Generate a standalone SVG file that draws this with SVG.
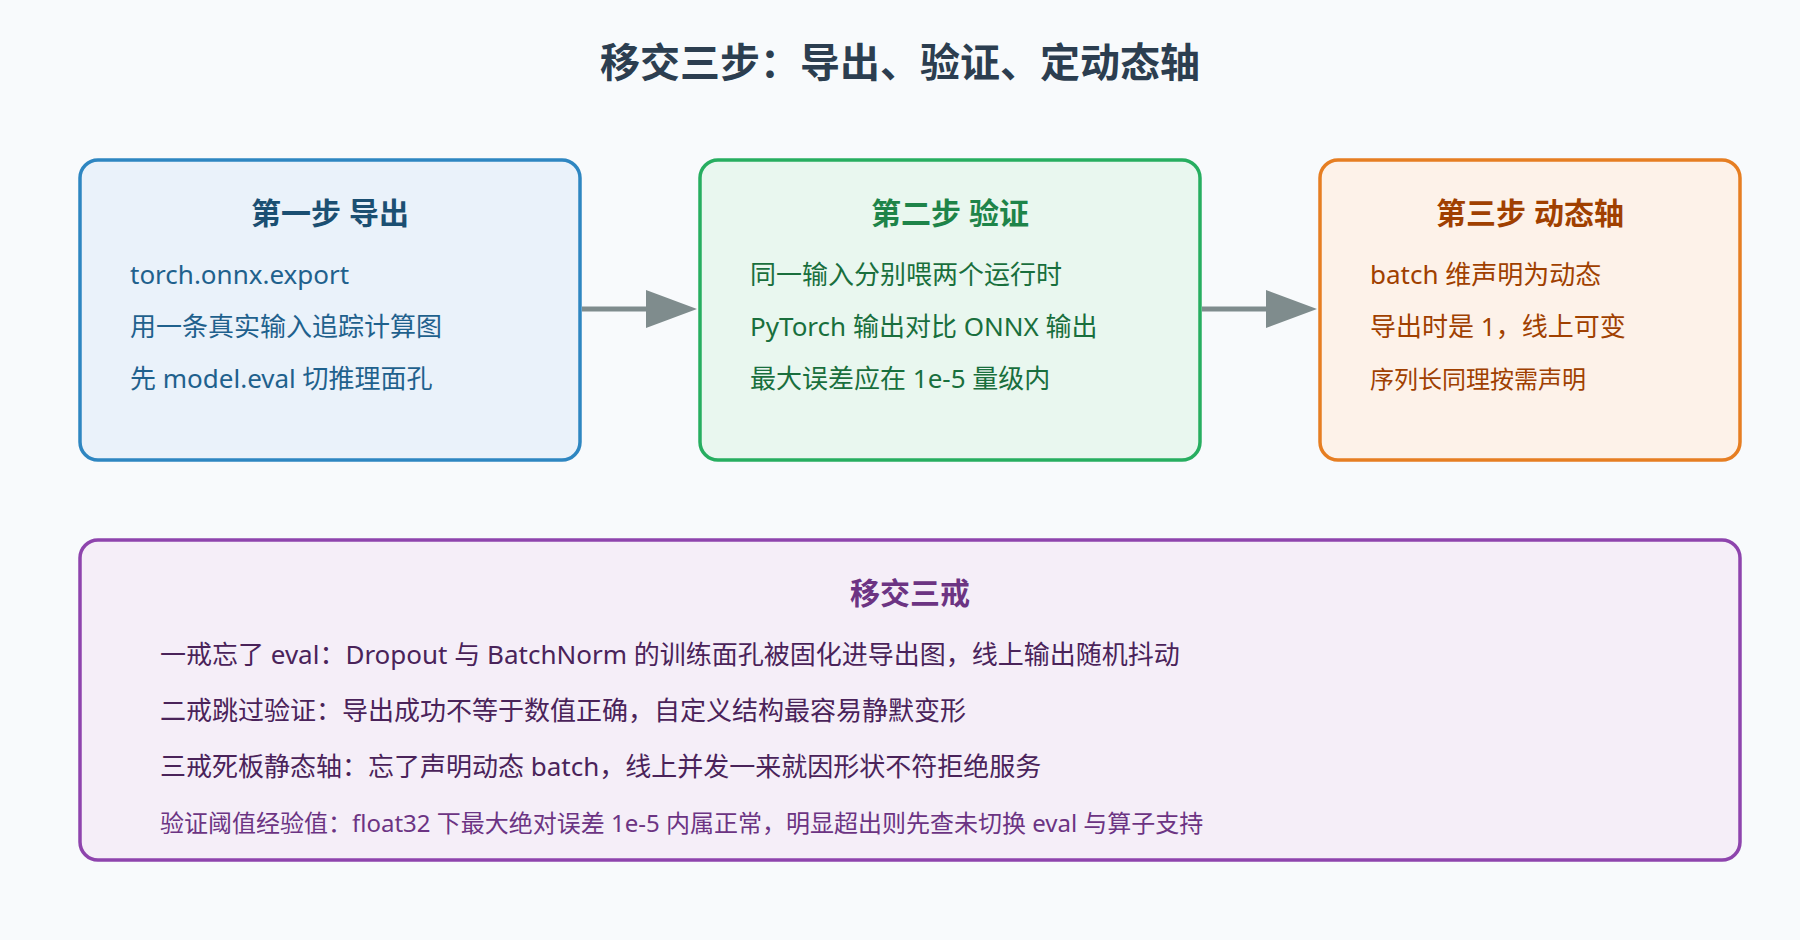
<svg xmlns="http://www.w3.org/2000/svg" width="1800" height="940" viewBox="0 0 1800 940">
<style>
text{font-family:"Noto Sans","Noto Sans CJK SC",sans-serif}
.t{font-size:30px;font-weight:bold;text-anchor:middle}
.b{font-size:26px}
.s{font-size:24px}
</style>
<rect width="1800" height="940" fill="#f8fafc"/>
<text x="900" y="77" font-size="40" font-weight="bold" text-anchor="middle" fill="#2c3e50">移交三步：导出、验证、定动态轴</text>
<g id="connectors" stroke="#7f8c8d" stroke-width="5" fill="none">
<line x1="582" y1="309" x2="650" y2="309"/><path d="M646,290 L697,309 L646,328 z" fill="#7f8c8d" stroke="none"/>
<line x1="1202" y1="309" x2="1270" y2="309"/><path d="M1266,290 L1317,309 L1266,328 z" fill="#7f8c8d" stroke="none"/>
</g>
<g id="step1"><rect x="80" y="160" width="500" height="300" rx="18" fill="#eaf2fa" stroke="#2e86c1" stroke-width="3.5"/>
<text class="t" x="330" y="224" fill="#1b4f72">第一步 导出</text>
<text class="b" x="130" y="284" fill="#1f618d">torch.onnx.export</text>
<text class="b" x="130" y="336" fill="#1f618d">用一条真实输入追踪计算图</text>
<text class="b" x="130" y="388" fill="#1f618d">先 model.eval 切推理面孔</text></g>
<g id="step2"><rect x="700" y="160" width="500" height="300" rx="18" fill="#e9f7ef" stroke="#27ae60" stroke-width="3.5"/>
<text class="t" x="950" y="224" fill="#1e8449">第二步 验证</text>
<text class="b" x="750" y="284" fill="#196f3d">同一输入分别喂两个运行时</text>
<text class="b" x="750" y="336" fill="#196f3d">PyTorch 输出对比 ONNX 输出</text>
<text class="b" x="750" y="388" fill="#196f3d">最大误差应在 1e-5 量级内</text></g>
<g id="step3"><rect x="1320" y="160" width="420" height="300" rx="18" fill="#fdf2e9" stroke="#e67e22" stroke-width="3.5"/>
<text class="t" x="1530" y="224" fill="#a04000">第三步 动态轴</text>
<text class="b" x="1370" y="284" fill="#a04000">batch 维声明为动态</text>
<text class="b" x="1370" y="336" fill="#a04000">导出时是 1，线上可变</text>
<text class="s" x="1370" y="388" fill="#a04000">序列长同理按需声明</text></g>
<g id="rules"><rect x="80" y="540" width="1660" height="320" rx="18" fill="#f5eef8" stroke="#8e44ad" stroke-width="3.5"/>
<text class="t" x="910" y="604" fill="#6c3483">移交三戒</text>
<text class="b" x="160" y="664" fill="#4a235a">一戒忘了 eval：Dropout 与 BatchNorm 的训练面孔被固化进导出图，线上输出随机抖动</text>
<text class="b" x="160" y="720" fill="#4a235a">二戒跳过验证：导出成功不等于数值正确，自定义结构最容易静默变形</text>
<text class="b" x="160" y="776" fill="#4a235a">三戒死板静态轴：忘了声明动态 batch，线上并发一来就因形状不符拒绝服务</text>
<text class="s" x="160" y="832" fill="#6c3483">验证阈值经验值：float32 下最大绝对误差 1e-5 内属正常，明显超出则先查未切换 eval 与算子支持</text></g>
</svg>
